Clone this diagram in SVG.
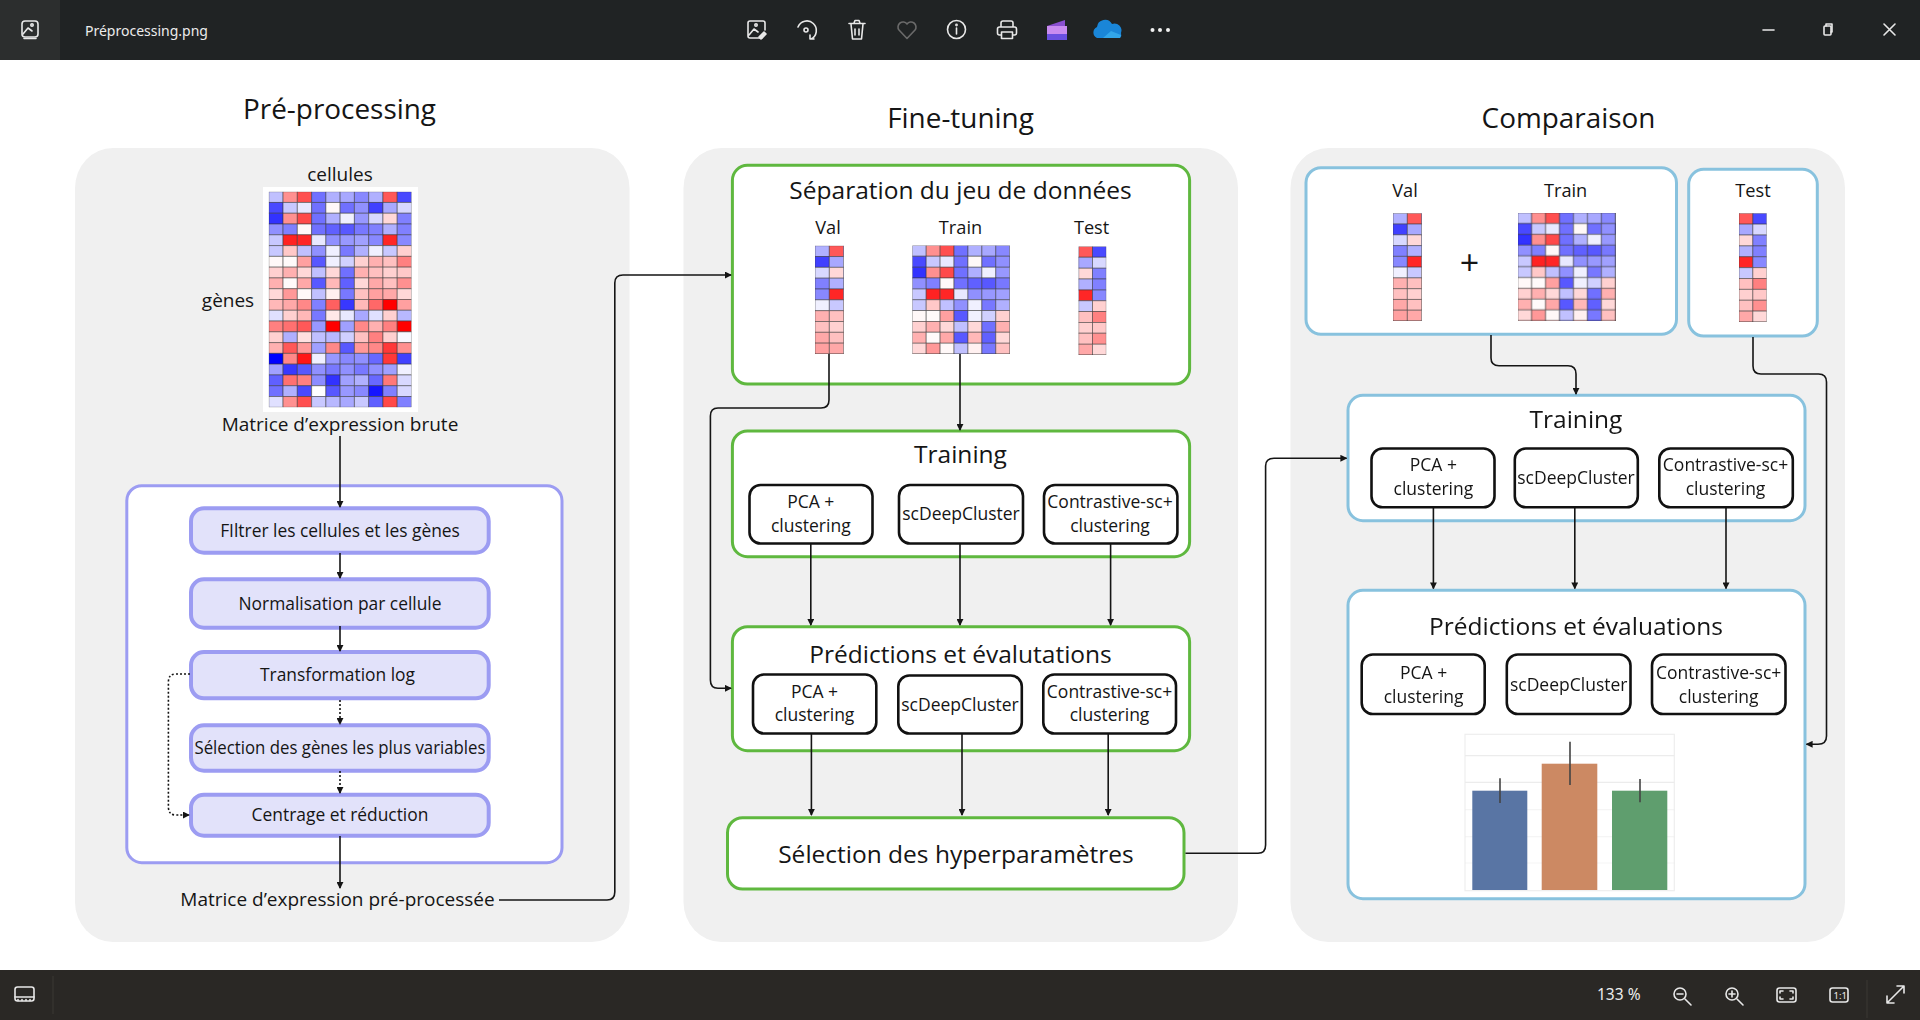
<svg xmlns="http://www.w3.org/2000/svg" width="1920" height="1020" viewBox="0 0 1920 1020">
<style>
text{font-family:"Open Sans","Noto Sans",sans-serif;fill:#151515;text-anchor:middle}
.t28{font-size:27.900px}.t25{font-size:24.500px}.t19{font-size:19px}.t18{font-size:18.200px}.t17{font-size:17.400px}.t16{font-size:17.500px}
.panel{fill:#f0f0f0}
.gr{fill:#fff;stroke:#5fb83f;stroke-width:3}
.bl{fill:#fff;stroke:#88c2de;stroke-width:3}
.vi{fill:#fff;stroke:#9c9cf2;stroke-width:3}
.st{fill:#e2e2fa;stroke:#9c9cf2;stroke-width:4}
.in{fill:#fff;stroke:#111;stroke-width:2.600}
.c{fill:none;stroke:#151515;stroke-width:1.600;marker-end:url(#ah)}
.d{stroke-dasharray:2 2}
.hm rect{width:1px;height:1px;stroke:#333;stroke-opacity:.5;stroke-width:1;vector-effect:non-scaling-stroke}
.ic{fill:none;stroke:#e8e8e8;stroke-width:1.600;stroke-linecap:round;stroke-linejoin:round}
.ui{fill:#ececec;text-anchor:start;font-family:"Noto Sans","Open Sans",sans-serif}
.grid{stroke:#ececec;stroke-width:1.200}
.err{stroke:#444;stroke-width:1.600}
</style>
<defs>
<filter id="soft" x="-5%" y="-5%" width="110%" height="110%"><feGaussianBlur stdDeviation=".5"/></filter>
<marker id="ah" viewBox="0 0 8 8" refX="7" refY="4" markerWidth="7" markerHeight="7" markerUnits="userSpaceOnUse" orient="auto"><path d="M0 0L8 4L0 8Z" fill="#151515"/></marker>
<g id="hm" class="hm">
<rect x="0" y="0" fill="#c0c0ff"/><rect x="1" y="0" fill="#ff9090"/><rect x="2" y="0" fill="#ff5050"/><rect x="3" y="0" fill="#7070ff"/><rect x="4" y="0" fill="#b0b0ff"/><rect x="5" y="0" fill="#a8a8ff"/><rect x="6" y="0" fill="#8888ff"/><rect x="7" y="0" fill="#b0b0ff"/><rect x="8" y="0" fill="#ff5858"/><rect x="9" y="0" fill="#4848ff"/>
<rect x="0" y="1" fill="#4848ff"/><rect x="1" y="1" fill="#c8c8ff"/><rect x="2" y="1" fill="#e8e8ff"/><rect x="3" y="1" fill="#7070ff"/><rect x="4" y="1" fill="#fff8f8"/><rect x="5" y="1" fill="#7070ff"/><rect x="6" y="1" fill="#9090ff"/><rect x="7" y="1" fill="#4040ff"/><rect x="8" y="1" fill="#a8a8ff"/><rect x="9" y="1" fill="#d8d8ff"/>
<rect x="0" y="2" fill="#3030ff"/><rect x="1" y="2" fill="#ff9090"/><rect x="2" y="2" fill="#ff4848"/><rect x="3" y="2" fill="#7070ff"/><rect x="4" y="2" fill="#b0b0ff"/><rect x="5" y="2" fill="#f0f0ff"/><rect x="6" y="2" fill="#9898ff"/><rect x="7" y="2" fill="#d8d8ff"/><rect x="8" y="2" fill="#ffd8d8"/><rect x="9" y="2" fill="#8080ff"/>
<rect x="0" y="3" fill="#9090ff"/><rect x="1" y="3" fill="#8080ff"/><rect x="2" y="3" fill="#fff8f8"/><rect x="3" y="3" fill="#7070ff"/><rect x="4" y="3" fill="#6060ff"/><rect x="5" y="3" fill="#5858ff"/><rect x="6" y="3" fill="#7878ff"/><rect x="7" y="3" fill="#8080ff"/><rect x="8" y="3" fill="#b0b0ff"/><rect x="9" y="3" fill="#8080ff"/>
<rect x="0" y="4" fill="#c8c8ff"/><rect x="1" y="4" fill="#ff2020"/><rect x="2" y="4" fill="#ff2828"/><rect x="3" y="4" fill="#e8e8ff"/><rect x="4" y="4" fill="#9090ff"/><rect x="5" y="4" fill="#9898ff"/><rect x="6" y="4" fill="#a0a0ff"/><rect x="7" y="4" fill="#8888ff"/><rect x="8" y="4" fill="#ff2828"/><rect x="9" y="4" fill="#8888ff"/>
<rect x="0" y="5" fill="#c8c8ff"/><rect x="1" y="5" fill="#ffc8c8"/><rect x="2" y="5" fill="#c0c0ff"/><rect x="3" y="5" fill="#9090ff"/><rect x="4" y="5" fill="#f0f0ff"/><rect x="5" y="5" fill="#7878ff"/><rect x="6" y="5" fill="#b0b0ff"/><rect x="7" y="5" fill="#f0f0ff"/><rect x="8" y="5" fill="#c8c8ff"/><rect x="9" y="5" fill="#ffd0d0"/>
<rect x="0" y="6" fill="#fff8f8"/><rect x="1" y="6" fill="#fffafa"/><rect x="2" y="6" fill="#ffa0a0"/><rect x="3" y="6" fill="#5858ff"/><rect x="4" y="6" fill="#f0f0ff"/><rect x="5" y="6" fill="#d0d0ff"/><rect x="6" y="6" fill="#ffd0d0"/><rect x="7" y="6" fill="#ffb0b0"/><rect x="8" y="6" fill="#ffc0c0"/><rect x="9" y="6" fill="#ff8080"/>
<rect x="0" y="7" fill="#ffd0d0"/><rect x="1" y="7" fill="#ffb0b0"/><rect x="2" y="7" fill="#ffd8d8"/><rect x="3" y="7" fill="#c0c0ff"/><rect x="4" y="7" fill="#ffd8d8"/><rect x="5" y="7" fill="#7070ff"/><rect x="6" y="7" fill="#ffb0b0"/><rect x="7" y="7" fill="#ffc0c0"/><rect x="8" y="7" fill="#ffd0d0"/><rect x="9" y="7" fill="#ffc8c8"/>
<rect x="0" y="8" fill="#ffb0b0"/><rect x="1" y="8" fill="#fffafa"/><rect x="2" y="8" fill="#ffa8a8"/><rect x="3" y="8" fill="#5858ff"/><rect x="4" y="8" fill="#ffb8b8"/><rect x="5" y="8" fill="#6060ff"/><rect x="6" y="8" fill="#ffd8d8"/><rect x="7" y="8" fill="#ffa8a8"/><rect x="8" y="8" fill="#ffc0c0"/><rect x="9" y="8" fill="#ff9090"/>
<rect x="0" y="9" fill="#ffd8d8"/><rect x="1" y="9" fill="#ff9898"/><rect x="2" y="9" fill="#fff8f8"/><rect x="3" y="9" fill="#c0c0ff"/><rect x="4" y="9" fill="#fff0f0"/><rect x="5" y="9" fill="#7878ff"/><rect x="6" y="9" fill="#ffc0c0"/><rect x="7" y="9" fill="#ffa0a0"/><rect x="8" y="9" fill="#ffa8a8"/><rect x="9" y="9" fill="#ffd8d8"/>
<rect x="0" y="10" fill="#ffb8b8"/><rect x="1" y="10" fill="#ffa8a8"/><rect x="2" y="10" fill="#ff8888"/><rect x="3" y="10" fill="#8080ff"/><rect x="4" y="10" fill="#ff6060"/><rect x="5" y="10" fill="#3838ff"/><rect x="6" y="10" fill="#ffb8b8"/><rect x="7" y="10" fill="#ff6868"/><rect x="8" y="10" fill="#ff0000"/><rect x="9" y="10" fill="#ffa0a0"/>
<rect x="0" y="11" fill="#e0e0ff"/><rect x="1" y="11" fill="#ffd0d0"/><rect x="2" y="11" fill="#ffb8b8"/><rect x="3" y="11" fill="#7878ff"/><rect x="4" y="11" fill="#ffe8e8"/><rect x="5" y="11" fill="#e8e8ff"/><rect x="6" y="11" fill="#a8a8ff"/><rect x="7" y="11" fill="#e0e0ff"/><rect x="8" y="11" fill="#ffd0d0"/><rect x="9" y="11" fill="#b8b8ff"/>
<rect x="0" y="12" fill="#ff8080"/><rect x="1" y="12" fill="#ff7070"/><rect x="2" y="12" fill="#ff5858"/><rect x="3" y="12" fill="#9898ff"/><rect x="4" y="12" fill="#ff0000"/><rect x="5" y="12" fill="#a0a0ff"/><rect x="6" y="12" fill="#ff8888"/><rect x="7" y="12" fill="#ffb0b0"/><rect x="8" y="12" fill="#ff8080"/><rect x="9" y="12" fill="#ff0000"/>
<rect x="0" y="13" fill="#ffd0d0"/><rect x="1" y="13" fill="#b0b0ff"/><rect x="2" y="13" fill="#ffe0e0"/><rect x="3" y="13" fill="#c0c0ff"/><rect x="4" y="13" fill="#b8b8ff"/><rect x="5" y="13" fill="#d0d0ff"/><rect x="6" y="13" fill="#ffc0c0"/><rect x="7" y="13" fill="#ff8080"/><rect x="8" y="13" fill="#ffd0d0"/><rect x="9" y="13" fill="#f8f8ff"/>
<rect x="0" y="14" fill="#ffb0b0"/><rect x="1" y="14" fill="#ff5858"/><rect x="2" y="14" fill="#ff9898"/><rect x="3" y="14" fill="#a0a0ff"/><rect x="4" y="14" fill="#ff8888"/><rect x="5" y="14" fill="#5858ff"/><rect x="6" y="14" fill="#ff9898"/><rect x="7" y="14" fill="#ff8888"/><rect x="8" y="14" fill="#ff3838"/><rect x="9" y="14" fill="#ff9090"/>
<rect x="0" y="15" fill="#0000ff"/><rect x="1" y="15" fill="#ff8888"/><rect x="2" y="15" fill="#ff1818"/><rect x="3" y="15" fill="#f0f0ff"/><rect x="4" y="15" fill="#9898ff"/><rect x="5" y="15" fill="#8888ff"/><rect x="6" y="15" fill="#9090ff"/><rect x="7" y="15" fill="#6868ff"/><rect x="8" y="15" fill="#ff3838"/><rect x="9" y="15" fill="#4040ff"/>
<rect x="0" y="16" fill="#a0a0ff"/><rect x="1" y="16" fill="#3838ff"/><rect x="2" y="16" fill="#5858ff"/><rect x="3" y="16" fill="#9090ff"/><rect x="4" y="16" fill="#7878ff"/><rect x="5" y="16" fill="#9090ff"/><rect x="6" y="16" fill="#7878ff"/><rect x="7" y="16" fill="#9090ff"/><rect x="8" y="16" fill="#a0a0ff"/><rect x="9" y="16" fill="#f0f0ff"/>
<rect x="0" y="17" fill="#6060ff"/><rect x="1" y="17" fill="#ff7070"/><rect x="2" y="17" fill="#ff8080"/><rect x="3" y="17" fill="#8c8cff"/><rect x="4" y="17" fill="#3030ff"/><rect x="5" y="17" fill="#a0a0ff"/><rect x="6" y="17" fill="#b0b0ff"/><rect x="7" y="17" fill="#6868ff"/><rect x="8" y="17" fill="#ff7878"/><rect x="9" y="17" fill="#d8d8ff"/>
<rect x="0" y="18" fill="#7070ff"/><rect x="1" y="18" fill="#b0b0ff"/><rect x="2" y="18" fill="#4848ff"/><rect x="3" y="18" fill="#ffffff"/><rect x="4" y="18" fill="#5858ff"/><rect x="5" y="18" fill="#9898ff"/><rect x="6" y="18" fill="#8888ff"/><rect x="7" y="18" fill="#1818ff"/><rect x="8" y="18" fill="#8080ff"/><rect x="9" y="18" fill="#d8d8ff"/>
<rect x="0" y="19" fill="#e0e0ff"/><rect x="1" y="19" fill="#ff9090"/><rect x="2" y="19" fill="#ff5050"/><rect x="3" y="19" fill="#c8c8ff"/><rect x="4" y="19" fill="#b8b8ff"/><rect x="5" y="19" fill="#a8a8ff"/><rect x="6" y="19" fill="#c8c8ff"/><rect x="7" y="19" fill="#6060ff"/><rect x="8" y="19" fill="#ff4848"/><rect x="9" y="19" fill="#8080ff"/>
</g>
</defs>
<rect width="1920" height="1020" fill="#fff"/>

<g id="window-top">
<rect width="1920" height="60" fill="#202324"/>
<rect width="60" height="60" fill="#2c2e2e"/>
<g class="ic"><rect x="22" y="21" width="16" height="16" rx="3"/><path d="M23 34l5-6 4 3M24 38.500h12"/><circle cx="32" cy="25" r="1.200"/></g>
<text class="ui" x="85" y="36" font-size="14">Préprocessing.png</text>
<g class="ic">
<g transform="translate(-3 0)"><path d="M765 38h-12a2 2 0 0 1-2-2v-13a2 2 0 0 1 2-2h13a2 2 0 0 1 2 2v7M752 35l5-6 4 3"/><circle cx="759" cy="25" r="1.200"/><path d="M762 37l5-5 2 2-5 5z" fill="#e8e8e8"/></g>
<path d="M798 27a9.500 9.500 0 1 1 13 12M810 35v4h4"/><circle cx="806" cy="30" r="2"/>
<path d="M849 23.500h16M854 23l1-2.500h4l1 2.500M851 24l1.500 15h9l1.500-15M855 29v6M859 29v6"/>
<path d="M907 38.500l-8-8.500a5 5 0 0 1 8-6a5 5 0 0 1 8 6z" stroke="#6a6a6a"/>
<circle cx="956.500" cy="29.500" r="9"/><path d="M956.500 28v6"/><circle cx="956.500" cy="25" r=".6"/>
<path d="M1001 27v-4a2 2 0 0 1 2-2h8a2 2 0 0 1 2 2v4M1001 35h-1.500a2 2 0 0 1-2-2v-4a2 2 0 0 1 2-2h15a2 2 0 0 1 2 2v4a2 2 0 0 1-2 2h-1.500M1001.500 32h11v6.500h-11z"/>
</g>
<path d="M1047 26l18-6v6z" fill="#8a4fd0"/><rect x="1047" y="26" width="20" height="14" fill="#c98bf0"/><rect x="1047" y="34" width="20" height="6" fill="#6a4fe0"/>
<g transform="translate(2 0)"><path d="M1095 38a6 6 0 0 1 0-11a8 8 0 0 1 15-3a7 7 0 0 1 9 9a5 5 0 0 1-1 5z" fill="#1a86d8"/><path d="M1101 38l8-7l10 4l-1 3z" fill="#32a6ea"/></g>
<g fill="#f0f0f0"><circle cx="1152.500" cy="30" r="2"/><circle cx="1160" cy="30" r="2"/><circle cx="1168" cy="30" r="2"/></g>
<g class="ic" stroke-width="1.200"><path d="M1763 30h11"/><rect x="1824" y="26" width="7" height="9" rx="1"/><path d="M1826 26v-2h6v8h-1"/><path d="M1884 24l11 11M1895 24l-11 11"/></g>
</g>

<g id="window-bottom">
<rect y="970" width="1920" height="50" fill="#2a2825"/>
<path d="M53 976v38M1867 980v38" stroke="#3a3835" stroke-width="1"/>
<g class="ic"><rect x="15" y="987" width="19" height="14" rx="2.500"/><path d="M15 997h19M18 999.500v1M22 999.500v1M26 999.500v1M30 999.500v1"/>
<circle cx="1680" cy="994" r="6"/><path d="M1677 994h6M1685 999l6 6"/>
<circle cx="1732" cy="994" r="6"/><path d="M1729 994h6M1732 991v6M1737 999l6 6"/>
<rect x="1777" y="988" width="19" height="14" rx="2.500"/><path d="M1780 993v-2h3M1793 993v-2h-3M1780 997v2h3M1793 997v2h-3"/>
<rect x="1830" y="988" width="18" height="14" rx="2.500"/>
<path d="M1887 1003l17-17M1897 986h7v7M1887 996v7h7"/></g>
<text class="ui" x="1597" y="1000" font-size="15.500">133 %</text>
<text class="ui" x="1833.500" y="999" font-size="9.500">1:1</text>
</g>

<g id="panel-preprocessing"><rect class="panel" x="75" y="148" width="554.500" height="794" rx="38" ry="40"/><text class="t28" x="339.500" y="119">Pré-processing</text></g>
<g id="panel-finetuning"><rect class="panel" x="683.500" y="148" width="554.500" height="794" rx="38" ry="40"/><text class="t28" x="960.500" y="128">Fine-tuning</text></g>
<g id="panel-comparaison"><rect class="panel" x="1290.500" y="148" width="554.500" height="794" rx="38" ry="40"/><text class="t28" x="1568.500" y="128">Comparaison</text></g>

<g id="matrice-brute">
<rect x="263" y="187" width="155" height="225" fill="#fff"/>
<g filter="url(#soft)"><svg x="268.800" y="191.700" width="142.700" height="215.600" viewBox="0 0 10 20" preserveAspectRatio="none"><use href="#hm"/></svg></g>
<text class="t19" x="340" y="181">cellules</text>
<text class="t19" x="228" y="306.500">gènes</text>
<text class="t19" x="340" y="431">Matrice d’expression brute</text>
</g>

<g id="pipeline"><rect class="vi" x="126.800" y="485.700" width="435.200" height="377" rx="15"/></g>
<g id="step-filtrer"><rect class="st" x="191" y="508.300" width="297.700" height="44.400" rx="13"/><text class="t17" x="340" y="536.500">FIltrer les cellules et les gènes</text></g>
<g id="step-normalisation"><rect class="st" x="191" y="579.300" width="297.700" height="48.400" rx="13"/><text class="t17" x="340" y="609.500">Normalisation par cellule</text></g>
<g id="step-log"><rect class="st" x="191" y="652" width="297.700" height="46.300" rx="13"/><text class="t17" x="337.500" y="680.500">Transformation log</text></g>
<g id="step-selection"><rect class="st" x="191" y="725.300" width="297.700" height="45.400" rx="13"/><text class="t17" x="340" y="753.500" textLength="291" lengthAdjust="spacingAndGlyphs">Sélection des gènes les plus variables</text></g>
<g id="step-centrage"><rect class="st" x="191" y="794.700" width="297.700" height="41" rx="13"/><text class="t17" x="340" y="821">Centrage et réduction</text></g>
<g id="matrice-pre"><text class="t19" x="337.500" y="906">Matrice d’expression pré-processée</text></g>

<g id="ft-separation"><rect class="gr" x="732.400" y="165.300" width="457.200" height="218.700" rx="15"/>
<text class="t25" x="960.500" y="199">Séparation du jeu de données</text>
<text class="t18" x="828" y="234">Val</text><text class="t18" x="960.500" y="234">Train</text><text class="t18" x="1091.600" y="234">Test</text>
<g filter="url(#soft)"><svg x="815" y="245.700" width="28.700" height="108.300" viewBox="7 0 2 10" preserveAspectRatio="none"><use href="#hm"/></svg>
<svg x="912.300" y="245.500" width="97.400" height="108.500" viewBox="0 0 7 10" preserveAspectRatio="none"><use href="#hm"/></svg>
<svg x="1078.700" y="246.500" width="27.600" height="108.500" viewBox="8 0 2 10" preserveAspectRatio="none"><use href="#hm"/></svg></g>
</g>
<g id="ft-training"><rect class="gr" x="732.400" y="431" width="457.200" height="125.700" rx="15"/><text class="t25" x="960.500" y="463">Training</text></g>
<g id="ft-train-pca"><rect class="in" x="749.500" y="485" width="123" height="58.500" rx="11"/><text class="t16" x="810.800" y="508">PCA +</text><text class="t16" x="810.800" y="532">clustering</text></g>
<g id="ft-train-scd"><rect class="in" x="899" y="485" width="124" height="58.500" rx="11"/><text class="t16" x="961" y="520">scDeepCluster</text></g>
<g id="ft-train-con"><rect class="in" x="1044" y="485" width="133.400" height="58.500" rx="11"/><text class="t16" x="1110" y="508">Contrastive-sc+</text><text class="t16" x="1110" y="532">clustering</text></g>
<g id="ft-pred"><rect class="gr" x="732.400" y="626.700" width="457.200" height="124" rx="15"/><text class="t25" x="960.500" y="663">Prédictions et évalutations</text></g>
<g id="ft-pred-pca"><rect class="in" x="753" y="674.500" width="123.300" height="59" rx="11"/><text class="t16" x="814.500" y="697.500">PCA +</text><text class="t16" x="814.500" y="721">clustering</text></g>
<g id="ft-pred-scd"><rect class="in" x="898.300" y="675.500" width="123.500" height="58" rx="11"/><text class="t16" x="960" y="710.500">scDeepCluster</text></g>
<g id="ft-pred-con"><rect class="in" x="1043.300" y="674.500" width="132.700" height="59" rx="11"/><text class="t16" x="1109.500" y="697.500">Contrastive-sc+</text><text class="t16" x="1109.500" y="721">clustering</text></g>
<g id="ft-hyper"><rect class="gr" x="727.500" y="817.700" width="456.500" height="71.300" rx="15"/><text class="t25" x="956" y="863">Sélection des hyperparamètres</text></g>

<g id="cmp-valtrain"><rect class="bl" x="1306" y="167.700" width="370.500" height="166.600" rx="15"/>
<text class="t18" x="1405" y="197">Val</text><text class="t18" x="1565.600" y="197">Train</text>
<text x="1469.500" y="275" font-size="34">+</text>
<g filter="url(#soft)"><svg x="1393" y="213.300" width="28.700" height="107.700" viewBox="7 0 2 10" preserveAspectRatio="none"><use href="#hm"/></svg>
<svg x="1517.700" y="212.700" width="97.600" height="108" viewBox="0 0 7 10" preserveAspectRatio="none"><use href="#hm"/></svg></g>
</g>
<g id="cmp-test"><rect class="bl" x="1688.700" y="169.300" width="128.600" height="166.700" rx="15"/><text class="t18" x="1753" y="197">Test</text>
<g filter="url(#soft)"><svg x="1739" y="213.300" width="27.700" height="108.700" viewBox="8 0 2 10" preserveAspectRatio="none"><use href="#hm"/></svg></g></g>
<g id="cmp-training"><rect class="bl" x="1348" y="395.300" width="457" height="125.400" rx="15"/><text class="t25" x="1576" y="428">Training</text></g>
<g id="cmp-train-pca"><rect class="in" x="1371.500" y="448.500" width="123" height="58.800" rx="11"/><text class="t16" x="1433.400" y="471">PCA +</text><text class="t16" x="1433.400" y="494.500">clustering</text></g>
<g id="cmp-train-scd"><rect class="in" x="1514.800" y="448.500" width="123" height="58.800" rx="11"/><text class="t16" x="1576" y="484">scDeepCluster</text></g>
<g id="cmp-train-con"><rect class="in" x="1659.300" y="448.500" width="133.500" height="58.800" rx="11"/><text class="t16" x="1725.500" y="471">Contrastive-sc+</text><text class="t16" x="1725.500" y="494.500">clustering</text></g>
<g id="cmp-pred"><rect class="bl" x="1348" y="590.300" width="457" height="308.400" rx="15"/><text class="t25" x="1576" y="635">Prédictions et évaluations</text></g>
<g id="cmp-pred-pca"><rect class="in" x="1361.700" y="654.500" width="123" height="59.500" rx="11"/><text class="t16" x="1423.600" y="679">PCA +</text><text class="t16" x="1423.600" y="702.500">clustering</text></g>
<g id="cmp-pred-scd"><rect class="in" x="1506.800" y="654.500" width="123.700" height="59.500" rx="11"/><text class="t16" x="1568.700" y="691">scDeepCluster</text></g>
<g id="cmp-pred-con"><rect class="in" x="1652" y="654.500" width="133.500" height="59.500" rx="11"/><text class="t16" x="1718.700" y="679">Contrastive-sc+</text><text class="t16" x="1718.700" y="702.500">clustering</text></g>

<g id="cmp-chart">
<rect x="1465" y="734.300" width="209.300" height="156.400" fill="#fff" stroke="#eee" stroke-width="1.200"/>
<path class="grid" d="M1465 755.700h209.300M1465 782.300h209.300"/><path class="grid" stroke-opacity=".5" d="M1465 809.700h209.300M1465 836.700h209.300M1465 863h209.300"/>
<rect x="1472.300" y="790.700" width="55" height="99.300" fill="#5975a4"/>
<rect x="1541.700" y="763.700" width="55.600" height="126.300" fill="#cc8963"/>
<rect x="1612" y="790.700" width="55.300" height="99.300" fill="#5f9e6e"/>
<path class="err" d="M1500 778.300V803M1570 741.700V785M1640 779V802.300"/>
</g>

<g id="connectors">
<path class="c" d="M340 436V507"/>
<path class="c" d="M340 553V578"/>
<path class="c" d="M340 626V651"/>
<path class="c d" d="M340 700V724"/>
<path class="c d" d="M340 771V793"/>
<path class="c d" d="M190 674H176Q168.400 674 168.400 682V807Q168.400 815 176 815H189"/>
<path class="c" d="M340 836V888"/>
<path class="c" d="M499 900H607Q614.800 900 614.800 892V283Q614.800 275 623 275H731"/>
<path class="c" d="M829 354V400Q829 408 821 408H718Q710.400 408 710.400 416V680Q710.400 688.300 718 688.300H731"/>
<path class="c" d="M960 354V430"/>
<path class="c" d="M810.800 544V625"/>
<path class="c" d="M960 544V625"/>
<path class="c" d="M1110.600 544V625"/>
<path class="c" d="M811.400 734V815"/>
<path class="c" d="M962 734V815"/>
<path class="c" d="M1108.200 734V815"/>
<path class="c" d="M1185.500 853.300H1258Q1265.600 853.300 1265.600 845V466Q1265.600 458.300 1274 458.300H1346.500"/>
<path class="c" d="M1491 335V358Q1491 365.700 1499 365.700H1568Q1576 365.700 1576 374V394"/>
<path class="c" d="M1753 337V366Q1753 374 1761 374H1818.500Q1826.500 374 1826.500 382V736Q1826.500 744.300 1818 744.300H1806.500"/>
<path class="c" d="M1433.400 508V588.500"/>
<path class="c" d="M1574.800 508V588.500"/>
<path class="c" d="M1726 508V588.500"/>
</g>
</svg>
